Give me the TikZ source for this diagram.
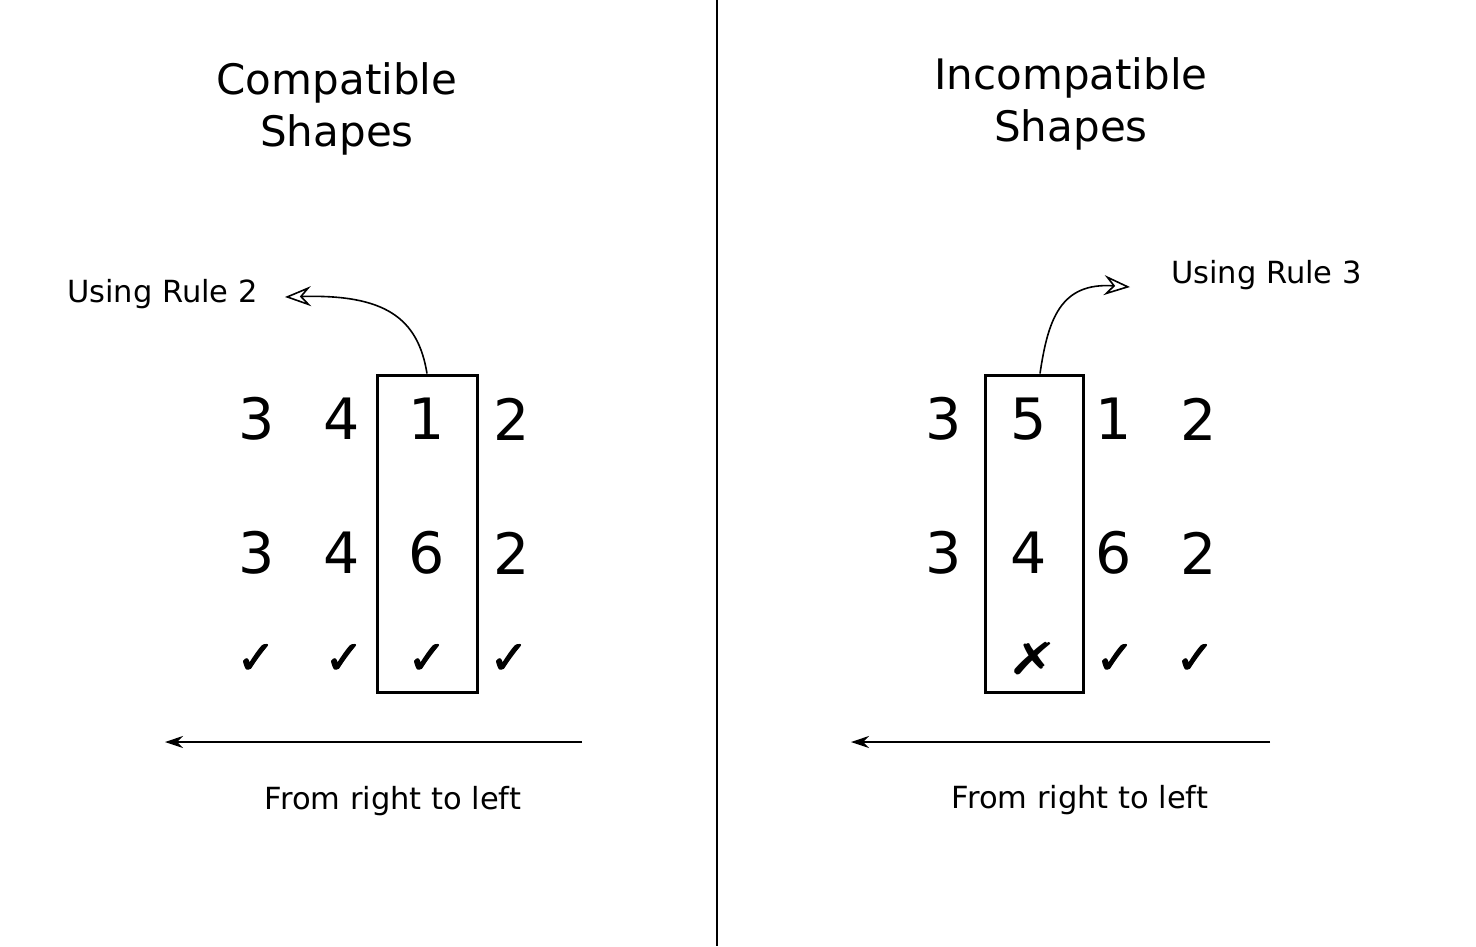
\documentclass[tikz,border=0pt]{standalone}
\usepackage{fontspec}
\setmainfont{DejaVu Sans}
\newfontfamily\checkfont{DejaVu Sans}[FakeBold=2.5]
\usetikzlibrary{arrows.meta}
\tikzset{
  titletext/.style={align=center, font=\fontsize{42}{52}\selectfont, inner sep=0pt},
  lbltext/.style={font=\fontsize{30.5}{36}\selectfont, inner sep=0pt},
  digittext/.style={font=\fontsize{57}{60}\selectfont, inner sep=0pt},
  ticktext/.style={font=\checkfont\fontsize{46}{50}\selectfont, inner sep=0pt},
  crosstext/.style={font=\fontsize{44}{48}\selectfont, inner sep=0pt},
  framebox/.style={draw, line width=3pt},
  curvearrow/.style={line width=1.6pt, -{Stealth[length=26pt,width=20pt,open,inset=9pt]}},
  dirarrow/.style={line width=1.4pt, -{Stealth[length=18pt,width=12pt,inset=6pt]}},
}
\begin{document}
\begin{tikzpicture}[x=1pt,y=-1pt]
\useasboundingbox (0,0) rectangle (1476,946);
\fill[white] (0,0) rectangle (1476,946);
% divider
\coordinate (dtop) at (717,0);
\coordinate (dbot) at (717,946);
\draw[line width=2pt] (dtop) -- (dbot);

% ---------- left panel ----------
\node[titletext] (ltitle) at (337,109) {Compatible\\Shapes};
\node[lbltext, anchor=west] (lrule) at (67,294) {Using Rule 2};
\foreach \n/\x/\a/\b in {a/257/3/3, b/342/4/4, c/427/1/6, d/512/2/2} {
  \node[digittext] (l1\n) at (\x,419) {\a};
  \node[digittext] (l2\n) at (\x,553) {\b};
}
\foreach \n/\x in {a/256, b/344, c/427, d/509} {
  \node[ticktext] (lt\n) at (\x,659) {✓};
}
\node[framebox, minimum width=100pt, minimum height=317pt, inner sep=0pt] (lbox) at (427,533.5) {};
\coordinate (larrowend) at (285,297);
\draw[curvearrow] (lbox.north) .. controls (418,318) and (385,294) .. (larrowend);
\coordinate (lfrom) at (582,742);
\coordinate (lto) at (165,742);
\draw[dirarrow] (lfrom) -- (lto);
\node[lbltext] (ldir) at (393,801) {From right to left};

% ---------- right panel ----------
\node[titletext] (rtitle) at (1071,104) {Incompatible\\Shapes};
\node[lbltext, anchor=west] (rrule) at (1171,275) {Using Rule 3};
\foreach \n/\x/\a/\b in {a/944/3/3, b/1029/5/4, c/1114/1/6, d/1199/2/2} {
  \node[digittext] (r1\n) at (\x,419) {\a};
  \node[digittext] (r2\n) at (\x,553) {\b};
}
\node[crosstext] (rtb) at (1033,659) {\scalebox{1.4}[1]{✗}};
\node[ticktext] (rtc) at (1115,659) {✓};
\node[ticktext] (rtd) at (1195,659) {✓};
\node[framebox, minimum width=98pt, minimum height=317pt, inner sep=0pt] (rbox) at (1034,533.5) {};
\coordinate (rarrowend) at (1130,287);
\draw[curvearrow] ([xshift=6pt]rbox.north) .. controls (1048,320) and (1060,282) .. (rarrowend);
\coordinate (rfrom) at (1270,742);
\coordinate (rto) at (851,742);
\draw[dirarrow] (rfrom) -- (rto);
\node[lbltext] (rdir) at (1080,800) {From right to left};
\end{tikzpicture}
\end{document}
